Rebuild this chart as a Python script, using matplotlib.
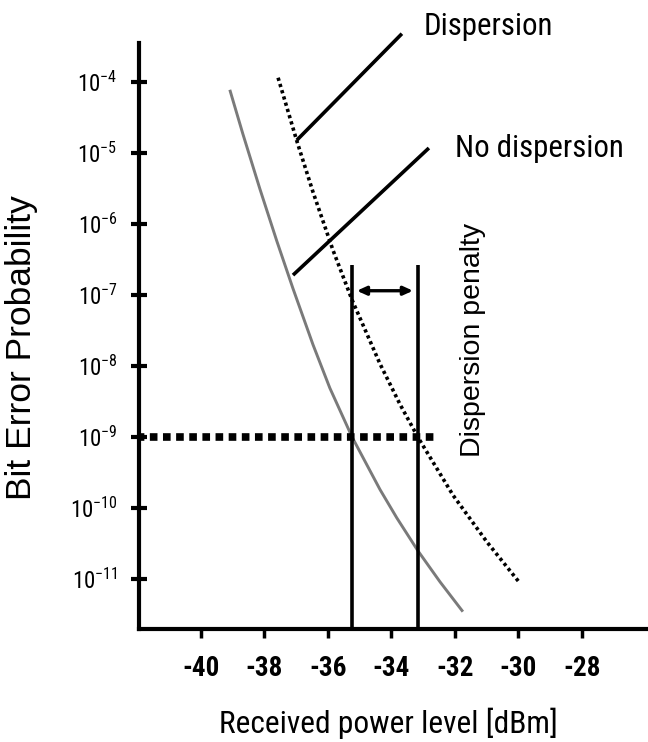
import numpy as np
import matplotlib
matplotlib.use("Agg")
import matplotlib.pyplot as plt
from matplotlib import font_manager as fm

# ---------------- data ----------------
# No dispersion curve (solid grey): received power [dBm] vs log10(BER)
nodisp_power = [-39.09, -38.68, -38.14, -37.61, -37.10, -36.47, -35.94,
                -35.24, -34.36, -33.83, -33.17, -32.47, -31.75]
nodisp_log10_ber = [-4.11, -4.73, -5.51, -6.24, -6.91, -7.70, -8.31,
                    -9.00, -9.74, -10.14, -10.60, -11.04, -11.46]

# Dispersion curve (dotted black)
disp_power = [-37.57, -36.98, -36.47, -35.84, -35.24, -34.36, -33.73, -33.17,
              -32.06, -30.99, -29.95]
disp_log10_ber = [-3.94, -4.83, -5.55, -6.37, -7.07, -7.97, -8.54, -9.00,
                  -9.82, -10.48, -11.06]

# reference BER level and the two sensitivity markers
ber_ref_log10 = -9
ber_ref_end_power = -32.54
sens_nodisp = -35.24
sens_disp = -33.17
marker_top_log10 = -6.58
arrow_log10 = -6.94
arrow_from = -35.09
arrow_to = -33.32

# leader lines for the curve labels: (x0, log10 y0, x1, log10 y1)
leader_disp = (-36.98, -4.82, -33.67, -3.32)
leader_nodisp = (-37.10, -6.72, -32.82, -4.93)

x_ticks = [-40, -38, -36, -34, -32, -30, -28]
x_tick_labels = ["-40", "-38", "-36", "-34", "-32", "-30", "-28"]
y_tick_exps = [-4, -5, -6, -7, -8, -9, -10, -11]

xlim = (-41.95, -25.92)
ylim_log10 = (-11.704, -3.451)

# ---------------- fonts ----------------
avail = {f.name for f in fm.fontManager.ttflist}
cond = next((n for n in ["Roboto Condensed", "Archivo Narrow", "PT Sans Narrow"]
             if n in avail), None)
regular = "Liberation Sans"
if cond:
    hfont = cond
    sz = dict(label=22.2, xlabel=22.6, xtick=19.5, ytick=16.5)
else:
    hfont = regular
    sz = dict(label=20, xlabel=20, xtick=16.5, ytick=15)

plt.rcParams["font.family"] = [hfont, "DejaVu Sans"]
plt.rcParams["mathtext.fontset"] = "custom"
plt.rcParams["mathtext.rm"] = hfont
plt.rcParams["mathtext.it"] = hfont
plt.rcParams["mathtext.default"] = "regular"

# ---------------- figure ----------------
fig = plt.figure(figsize=(6.48, 7.42), dpi=100)
ax = fig.add_axes([139 / 648, 113 / 742, (648 - 139) / 648, (629 - 43) / 742])

ax.set_yscale("log")
ax.set_xlim(*xlim)
ax.set_ylim(10 ** ylim_log10[0], 10 ** ylim_log10[1])

ber = lambda v: 10.0 ** np.asarray(v, dtype=float)

# curves
ax.plot(nodisp_power, ber(nodisp_log10_ber), color="#7a7a7a", lw=2.1,
        solid_capstyle="butt", solid_joinstyle="round", zorder=3)
ax.plot(disp_power, ber(disp_log10_ber), color="black", lw=2.6,
        linestyle=(0, (0.9, 0.9)), dash_capstyle="butt", zorder=3)

# reference level (thick square dots)
ax.plot([xlim[0], ber_ref_end_power], ber([ber_ref_log10, ber_ref_log10]),
        color="black", lw=5.5, linestyle=(0.3, (1.0, 0.72)),
        dash_capstyle="butt", zorder=4)

# vertical sensitivity markers
for xv in (sens_nodisp, sens_disp):
    ax.plot([xv, xv], ber([marker_top_log10, ylim_log10[0]]), color="black",
            lw=2.6, solid_capstyle="butt", zorder=4)

# double arrow
ax.annotate("", xy=(arrow_to, 10 ** arrow_log10), xytext=(arrow_from, 10 ** arrow_log10),
            arrowprops=dict(arrowstyle="<|-|>,head_length=0.55,head_width=0.25",
                            lw=2.4, color="black", shrinkA=0, shrinkB=0),
            zorder=5)

# leader lines
for (x0, y0, x1, y1) in (leader_disp, leader_nodisp):
    ax.plot([x0, x1], ber([y0, y1]), color="black", lw=2.6,
            solid_capstyle="butt", clip_on=False, zorder=5)

# axes styling
for s in ("top", "right"):
    ax.spines[s].set_visible(False)
for s in ("left", "bottom"):
    ax.spines[s].set_linewidth(3)
ax.yaxis.set_minor_locator(matplotlib.ticker.NullLocator())
ax.set_yticks([10.0 ** e for e in y_tick_exps])
ax.set_yticklabels([r"$10^{%d}$" % e for e in y_tick_exps])
ax.set_xticks(x_ticks)
ax.set_xticklabels(x_tick_labels, fontweight="bold")
ax.tick_params(axis="y", direction="inout", length=11, width=3, pad=10,
               labelsize=sz["ytick"])
ax.tick_params(axis="x", direction="out", length=6.5, width=2.5, pad=12,
               labelsize=sz["xtick"])

# texts
fig.text(424 / 648, 1 - 35 / 742, "Dispersion", fontsize=sz["label"],
         ha="left", va="baseline")
fig.text(455 / 648, 1 - 157 / 742, "No dispersion", fontsize=sz["label"],
         ha="left", va="baseline")
fig.text(473 / 648, 1 - 340 / 742, "Dispersion penalty", fontsize=20.5,
         family=regular, rotation=90, ha="center", va="center")
fig.text(22 / 648, 1 - 348 / 742, "Bit Error Probability", fontsize=25.5,
         family=regular, rotation=90, ha="center", va="center")
fig.text(388.5 / 648, 1 - 733 / 742, "Received power level [dBm]",
         fontsize=sz["xlabel"], ha="center", va="baseline")

fig.savefig("out.png", dpi=100)
